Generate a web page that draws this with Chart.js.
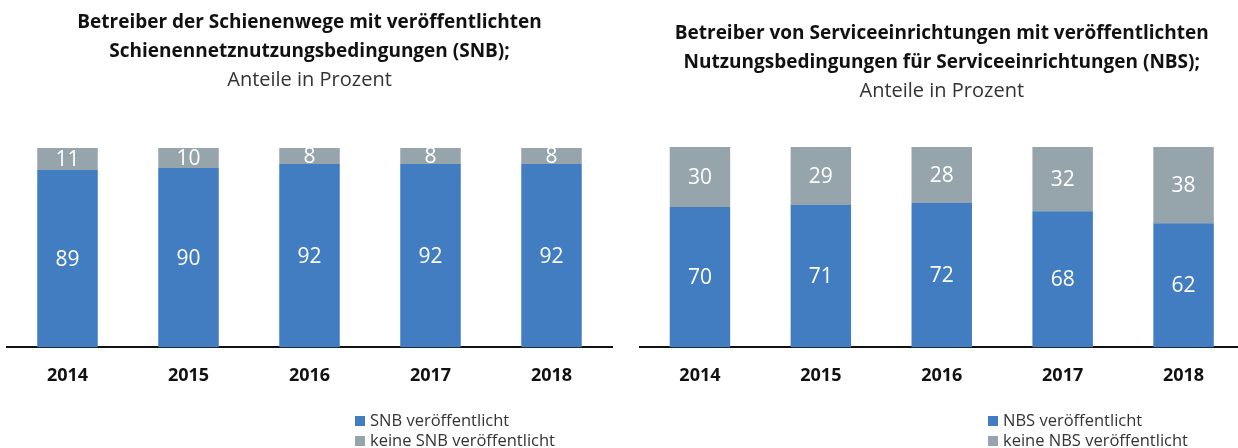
<!DOCTYPE html>
<html>
<head>
<meta charset="utf-8">
<script src="https://cdn.jsdelivr.net/npm/chart.js@4"></script>
<style>
  html, body { margin: 0; padding: 0; background: #fff; overflow: hidden; }
  #page { position: relative; width: 1238px; height: 448px; overflow: hidden; }
  .box { position: absolute; top: 0; height: 448px; }
  .legend { position: absolute; font: 16.5px "Open Sans", sans-serif; color: #333; line-height: 20px; }
  .legend div { white-space: nowrap; }
  .legend span { display: inline-block; width: 10px; height: 10px; margin-right: 5px; vertical-align: 0px; }
</style>
</head>
<body>
<div id="page">
  <div class="box" style="left:0;width:619px"><canvas id="snbChart"></canvas></div>
  <div class="box" style="left:620px;width:631px"><canvas id="nbsChart"></canvas></div>
  <div class="legend" id="snbLegend" style="left:355px;top:410px"></div>
  <div class="legend" id="nbsLegend" style="left:988px;top:410px"></div>
</div>
<script>
const years = ['2014', '2015', '2016', '2017', '2018'];

const snbPublished = [89, 90, 92, 92, 92];
const snbNotPublished = [11, 10, 8, 8, 8];

const nbsPublished = [70, 71, 72, 68, 62];
const nbsNotPublished = [30, 29, 28, 32, 38];

const blue = '#417dc0';
const grey = '#96a4ac';

// white numbers in the middle of each segment
const segmentLabels = {
    id: 'segmentLabels',
    afterDatasetsDraw(chart) {
        const ctx = chart.ctx;
        ctx.save();
        ctx.fillStyle = '#fff';
        ctx.font = '21px "Open Sans", sans-serif';
        ctx.textAlign = 'center';
        ctx.textBaseline = 'middle';
        chart.data.datasets.forEach((ds, i) => {
            chart.getDatasetMeta(i).data.forEach((bar, j) => {
                const p = bar.getProps(['x', 'y', 'base'], true);
                ctx.fillText(ds.data[j], p.x, (p.y + p.base) / 2 + 1);
            });
        });
        ctx.restore();
    }
};

function makeChart(id, title, yesLabel, noLabel, yes, no, pad, titleTop, subBottom) {
    const ctx = document.getElementById(id).getContext('2d');
    return new Chart(ctx, {
        type: 'bar',
        data: {
            labels: years,
            datasets: [
                { label: yesLabel, data: yes, backgroundColor: blue, borderWidth: 0 },
                { label: noLabel, data: no, backgroundColor: grey, borderWidth: 0 }
            ]
        },
        options: {
            responsive: true,
            maintainAspectRatio: false,
            animation: false,
            layout: { padding: { left: pad.left, right: pad.right, top: 0, bottom: 43 } },
            plugins: {
                legend: { display: false },
                tooltip: { enabled: false },
                title: {
                    display: true,
                    text: title,
                    color: '#111',
                    font: { family: '"Open Sans", sans-serif', size: 19, weight: 'bold', lineHeight: 29 / 19 },
                    padding: { top: titleTop, bottom: 0 }
                },
                subtitle: {
                    display: true,
                    text: 'Anteile in Prozent',
                    color: '#333',
                    font: { family: '"Open Sans", sans-serif', size: 20, weight: 'normal', lineHeight: 29 / 20 },
                    padding: { top: 0, bottom: subBottom }
                }
            },
            scales: {
                x: {
                    stacked: true,
                    grid: { display: false, drawTicks: false },
                    border: { display: true, color: '#111', width: 2 },
                    ticks: {
                        color: '#111',
                        padding: 18,
                        font: { family: '"Open Sans", sans-serif', size: 18, weight: 'bold' }
                    }
                },
                y: {
                    stacked: true,
                    display: false,
                    min: 0,
                    max: 100
                }
            },
            datasets: {
                bar: { categoryPercentage: 1, barPercentage: 0.5 }
            }
        },
        plugins: [segmentLabels]
    });
}

function makeLegend(elId, chart) {
    const el = document.getElementById(elId);
    chart.data.datasets.forEach(ds => {
        const row = document.createElement('div');
        const sw = document.createElement('span');
        sw.style.background = ds.backgroundColor;
        row.appendChild(sw);
        row.appendChild(document.createTextNode(ds.label));
        el.appendChild(row);
    });
}

const snb = makeChart('snbChart',
    ['Betreiber der Schienenwege mit veröffentlichten', 'Schienennetznutzungsbedingungen (SNB);'],
    'SNB veröffentlicht', 'keine SNB veröffentlicht',
    snbPublished, snbNotPublished, { left: 7, right: 7 }, 8, 53);

const nbs = makeChart('nbsChart',
    ['Betreiber von Serviceeinrichtungen mit veröffentlichten', 'Nutzungsbedingungen für Serviceeinrichtungen (NBS);'],
    'NBS veröffentlicht', 'keine NBS veröffentlicht',
    nbsPublished, nbsNotPublished, { left: 19.5, right: 7 }, 19, 41);

makeLegend('snbLegend', snb);
makeLegend('nbsLegend', nbs);
</script>
</body>
</html>
